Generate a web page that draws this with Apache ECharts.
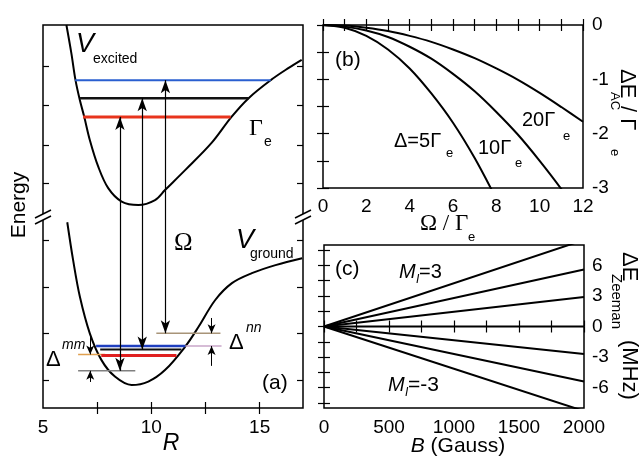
<!DOCTYPE html>
<html>
<head>
<meta charset="utf-8">
<script src="https://cdn.jsdelivr.net/npm/echarts@6/dist/echarts.min.js"></script>
<style>
  html, body { margin: 0; padding: 0; background: #fff; }
  #chart { width: 641px; height: 459px; }
</style>
</head>
<body>
<div id="chart"></div>
<script>
// (a) potential curves, energy in arbitrary units, axis break at 50
const R_EXC = [6.08, 6.31, 6.5, 6.7, 6.9, 7.16, 7.55, 8.01, 8.63, 9.4, 10.17, 10.63, 11.56, 12.78, 13.7, 14.49, 15.51, 16.34, 16.94]
const V_EXC = [100, 92.6, 85.6, 80.4, 76.1, 70.0, 63.0, 57.4, 53.9, 53.0, 54.3, 56.9, 62.1, 69.2, 76.0, 80.9, 85.6, 88.8, 90.9]
const R_GND = [6.12, 6.39, 6.7, 7.16, 7.7, 8.32, 9.09, 9.86, 10.63, 11.56, 12.18, 12.95, 13.72, 14.64, 15.73, 16.96]
const V_GND = [48.5, 38.6, 29.1, 19.5, 12.5, 8.2, 6.0, 6.9, 9.9, 16.0, 21.2, 28.2, 32.6, 35.2, 37.3, 39.1]

// vibrational levels: energy, start R, end R
const EXC_LEVEL_E = [85.6, 80.9, 76.0]
const EXC_LEVEL_R0 = [6.48, 6.71, 6.85]
const EXC_LEVEL_R1 = [15.51, 14.49, 13.66]
const GND_LEVEL_E = [19.5, 16.2, 16.2, 15.3, 14.0, 13.7, 9.7]
const GND_LEVEL_R0 = [10.23, 7.45, 11.57, 7.64, 6.62, 7.69, 6.62]
const GND_LEVEL_R1 = [13.19, 11.57, 13.24, 11.39, 7.87, 11.16, 9.26]

// Raman arrows (R, lower end, upper end) and detuning markers
const ARROW_R = [8.55, 9.58, 10.65]
const ARROW_LO = [9.7, 15.3, 19.5]
const ARROW_HI = [76.0, 80.9, 85.6]
const DELTA_R = [7.18, 7.18, 12.78, 12.78]
const DELTA_FROM = [18.8, 6.8, 23.5, 11.0]
const DELTA_TO = [14.0, 9.7, 19.5, 16.2]

const A_XTICKS = [7.5, 10, 12.5, 15]
const A_XLABELS = [5, 10, 15]
const A_YTICKS = [7.3, 19.6, 31.6, 43.9, 58.7, 68.7, 79.1, 89.3]

// (b) AC Stark shift vs Rabi frequency
const OMEGA = [0, 1, 2, 3, 4, 5, 6, 7, 8, 9, 10, 11, 12]
const SHIFT_D5 = [0, -0.05, -0.2, -0.45, -0.8, -1.26, -1.8, -2.45, -3.2, null, null, null, null]
const SHIFT_D10 = [0, -0.03, -0.1, -0.22, -0.4, -0.62, -0.9, -1.22, -1.6, -2.02, -2.5, -3.02, -3.6]
const SHIFT_D20 = [0, -0.01, -0.05, -0.11, -0.2, -0.31, -0.45, -0.61, -0.8, -1.01, -1.25, -1.51, -1.78]
const B_XTICKS = [0, 1, 2, 3, 4, 5, 6, 7, 8, 9, 10, 11, 12]
const B_XLABELS = [0, 2, 4, 6, 8, 10, 12]
const B_YTICKS = [-3, -2.5, -2, -1.5, -1, -0.5, 0]
const B_YLABELS = [-3, -2, -1, 0]

// (c) Zeeman shift, MI = 3 .. -3, value at 2000 G
const FIELD = [0, 2000]
const ZEEMAN_END = [8.5, 5.6, 2.9, 0, -2.7, -5.4, -8.3]
const C_XTICKS = [0, 250, 500, 750, 1000, 1250, 1500, 1750, 2000]
const C_XLABELS = [0, 500, 1000, 1500, 2000]
const C_YTICKS = [-7.5, -6, -4.5, -3, -1.5, 0, 1.5, 3, 4.5, 6, 7.5]
const C_YLABELS = [-6, -3, 0, 3, 6]

const FONT = 'Liberation Sans, Arial, sans-serif'
const SERIF = 'Liberation Serif, Times New Roman, serif'
const EXC_COLORS = ['#2a5fd0', '#111111', '#e8341c']
const GND_COLORS = ['#a89478', '#1f3fbf', '#c9a6c9', '#111111', '#e0a050', '#e02020', '#808080']
const GND_WIDTHS = [1.5, 2.5, 1.5, 2, 1.5, 3, 1.5]
const EXC_WIDTHS = [2, 2.5, 3]
const LABEL_SIZE = 19
const B_XMARGIN = 12

const zip = (xs, ys) => xs.map((x, i) => [x, ys[i]]).filter(p => p[1] != null)

const tick = (vals) => ({
  show: true, inside: true, length: 6, customValues: vals,
  lineStyle: { color: '#000', width: 1.2 },
})
const label = (vals, margin) => ({
  show: true, customValues: vals, color: '#000', fontSize: LABEL_SIZE, lineHeight: 14,
  fontFamily: FONT, margin, hideOverlap: false, formatter: v => String(v),
})
const noLabel = { show: false }

function axis(grid, pos, min, max, ticks, labels, margin) {
  return {
    type: 'value', gridIndex: grid, position: pos, min, max,
    axisLine: { show: false },
    splitLine: { show: false },
    axisTick: tick(ticks),
    axisLabel: labels ? label(labels, margin) : noLabel,
  }
}

const chart = echarts.init(document.getElementById('chart'))

const lineSeries = (xi, yi, data, color, width) => ({
  type: 'line', xAxisIndex: xi, yAxisIndex: yi, data, symbol: 'none',
  lineStyle: { color, width }, silent: true,
})

const series = []
series.push({ ...lineSeries(0, 0, zip(R_EXC, V_EXC), '#000', 2), smooth: 0.35 })
series.push({ ...lineSeries(0, 0, zip(R_GND, V_GND), '#000', 2), smooth: 0.35 })
EXC_LEVEL_E.forEach((e, i) => {
  series.push(lineSeries(0, 0, [[EXC_LEVEL_R0[i], e], [EXC_LEVEL_R1[i], e]], EXC_COLORS[i], EXC_WIDTHS[i]))
})
GND_LEVEL_E.forEach((e, i) => {
  series.push(lineSeries(0, 0, [[GND_LEVEL_R0[i], e], [GND_LEVEL_R1[i], e]], GND_COLORS[i], GND_WIDTHS[i]))
})
series.push({
  type: 'line', xAxisIndex: 0, yAxisIndex: 0, data: [], silent: true,
  markLine: {
    silent: true, symbol: ['arrow', 'arrow'], symbolSize: [7, 13],
    label: { show: false }, lineStyle: { color: '#000', width: 1.2, type: 'solid' },
    data: ARROW_R.map((r, i) => [{ coord: [r, ARROW_LO[i]] }, { coord: [r, ARROW_HI[i]] }]),
  },
})
series.push({
  type: 'line', xAxisIndex: 0, yAxisIndex: 0, data: [], silent: true,
  markLine: {
    silent: true, symbol: ['none', 'arrow'], symbolSize: [6, 9],
    label: { show: false }, lineStyle: { color: '#000', width: 1, type: 'solid' },
    data: DELTA_R.map((r, i) => [{ coord: [r, DELTA_FROM[i]] }, { coord: [r, DELTA_TO[i]] }]),
  },
})
;[SHIFT_D5, SHIFT_D10, SHIFT_D20].forEach(ys => {
  series.push({ ...lineSeries(2, 2, zip(OMEGA, ys), '#000', 2), smooth: 0.3 })
})
ZEEMAN_END.forEach(v => {
  series.push(lineSeries(4, 4, [[FIELD[0], 0], [FIELD[1], v]], '#000', 2))
})

const gridBase = { show: true, borderColor: '#000', borderWidth: 1.5, outerBoundsMode: 'none' }

chart.setOption({
  animation: false,
  backgroundColor: '#fff',
  grid: [
    { ...gridBase, left: 43, top: 25, width: 260, height: 383 },
    { ...gridBase, left: 323, top: 25, width: 260, height: 163 },
    { ...gridBase, left: 324, top: 245, width: 260, height: 163 },
  ],
  xAxis: [
    axis(0, 'bottom', 5, 17, A_XTICKS, A_XLABELS, 13),
    axis(0, 'top', 5, 17, A_XTICKS, null),
    axis(1, 'bottom', 0, 12, B_XTICKS, B_XLABELS, B_XMARGIN),
    axis(1, 'top', 0, 12, B_XTICKS, null),
    axis(2, 'bottom', 0, 2000, C_XTICKS, C_XLABELS, 13),
    axis(2, 'top', 0, 2000, C_XTICKS, null),
  ],
  yAxis: [
    axis(0, 'left', 0, 100, A_YTICKS, null),
    axis(0, 'right', 0, 100, A_YTICKS, null),
    axis(1, 'right', -3, 0, B_YTICKS, B_YLABELS, 9),
    axis(1, 'left', -3, 0, B_YTICKS, null),
    axis(2, 'right', -8, 8, C_YTICKS, C_YLABELS, 8),
    axis(2, 'left', -8, 8, C_YTICKS, null),
  ],
  series,
})

// annotations
function txt(x, y, s, size, opt = {}) {
  return {
    type: 'text', x, y, rotation: opt.rot || 0, z: 100, silent: true,
    style: {
      text: s, fontSize: size, fontFamily: opt.family || FONT, lineHeight: opt.lh,
      fontStyle: opt.italic ? 'italic' : 'normal', fill: '#000',
      align: opt.align || 'left', verticalAlign: 'middle', rich: opt.rich,
    },
  }
}

function breakMark(p) {
  const [x, y] = p
  return [
    { type: 'rect', z: 99, silent: true, shape: { x: x - 3, y: y - 2.5, width: 6, height: 6 }, style: { fill: '#fff' } },
    { type: 'line', z: 100, silent: true, shape: { x1: x - 8, y1: y + 1.5, x2: x + 8, y2: y - 6.5 }, style: { stroke: '#000', lineWidth: 1.5 } },
    { type: 'line', z: 100, silent: true, shape: { x1: x - 8, y1: y + 7.5, x2: x + 8, y2: y - 0.5 }, style: { stroke: '#000', lineWidth: 1.5 } },
  ]
}

const up = -Math.PI / 2
const graphics = [
  ...breakMark(chart.convertToPixel({ gridIndex: 0 }, [5, 50])),
  ...breakMark(chart.convertToPixel({ gridIndex: 0 }, [17, 50])),
  // panel (a)
  txt(76, 44, 'V', 27, { italic: true }),
  txt(93, 59, 'excited', 14),
  txt(249, 129, 'Γ', 24, { family: SERIF }),
  txt(264, 142, 'e', 14),
  txt(174, 243, 'Ω', 25, { family: SERIF }),
  txt(236, 240, 'V', 27, { italic: true }),
  txt(250, 254, 'ground', 14),
  txt(46, 360, 'Δ', 22),
  txt(62, 345, 'mm', 14, { italic: true }),
  txt(229, 343, 'Δ', 22),
  txt(246, 328, 'nn', 14, { italic: true }),
  txt(262, 383, '(a)', 21),
  txt(19, 205, 'Energy', 21, { rot: Math.PI / 2, align: 'center' }),
  txt(171, 444, 'R', 23, { italic: true, align: 'center', lh: 16 }),
  // panel (b)
  txt(335, 60, '(b)', 21),
  txt(394, 141, 'Δ=5Γ', 20),
  txt(446, 153, 'e', 13),
  txt(478, 148, '10Γ', 20),
  txt(515, 163, 'e', 13),
  txt(522, 120, '20Γ', 20),
  txt(563, 136, 'e', 13),
  txt(420, 224, 'Ω / Γ', 23, { family: SERIF, lh: 14 }),
  txt(468, 237, 'e', 13, { lh: 10 }),
  txt(627, 69, 'ΔE', 22, { rot: up }),
  txt(615, 92, 'AC', 13, { rot: up }),
  txt(627, 106, '/ Γ', 22, { rot: up }),
  txt(615, 149, 'e', 13, { rot: up }),
  // panel (c)
  txt(335, 269, '(c)', 21),
  txt(399, 272, 'M', 20, { italic: true }),
  txt(416, 280, 'I', 12, { italic: true }),
  txt(419, 272, '=3', 20),
  txt(388, 385, 'M', 20, { italic: true }),
  txt(405, 393, 'I', 12, { italic: true }),
  txt(408, 385, '=-3', 21),
  txt(458, 446, '{i|B} (Gauss)', 21, { align: 'center', lh: 16, rich: { i: { fontStyle: 'italic', fontSize: 21, fontFamily: FONT, lineHeight: 16 } } }),
  txt(629, 252, 'ΔE', 22, { rot: up }),
  txt(616, 274, 'Zeeman', 15, { rot: up }),
  txt(629, 340, '(MHz)', 22, { rot: up }),
]

chart.setOption({ graphic: graphics })

// one panel (b) tick label gets dropped by the axis label layout; un-hide it,
// or put it back at the axis position if it was never created
function restoreLabels() {
  const zr = chart.getZr()
  const missing = B_XLABELS.filter(v => {
    const s = String(v)
    let shown = 0
    let hiddenEl = null
    zr.storage.getRoots().forEach(root => {
      const visit = el => {
        if (el.style && el.style.text === s && !el.parent?.__isGraphic) {
          if (el.ignore || el.invisible) hiddenEl = hiddenEl || el
          else shown++
        }
      }
      visit(root)
      if (root.traverse) root.traverse(visit)
    })
    const expected = [B_XLABELS, B_YLABELS, C_XLABELS, C_YLABELS, A_XLABELS]
      .reduce((n, arr) => n + arr.filter(x => String(x) === s).length, 0)
    if (shown >= expected) return false
    if (hiddenEl) {
      hiddenEl.ignore = false
      hiddenEl.invisible = false
      return false
    }
    return true
  })
  zr.refreshImmediately()
  if (missing.length) {
    const base = chart.convertToPixel({ gridIndex: 1 }, [0, -3])[1]
    const extra = missing.map(v => txt(chart.convertToPixel({ xAxisIndex: 2 }, v), base + B_XMARGIN + 7, String(v), LABEL_SIZE, { align: 'center', lh: 14 }))
    chart.setOption({ graphic: [...graphics, ...extra] })
  }
}
restoreLabels()
</script>
</body>
</html>
